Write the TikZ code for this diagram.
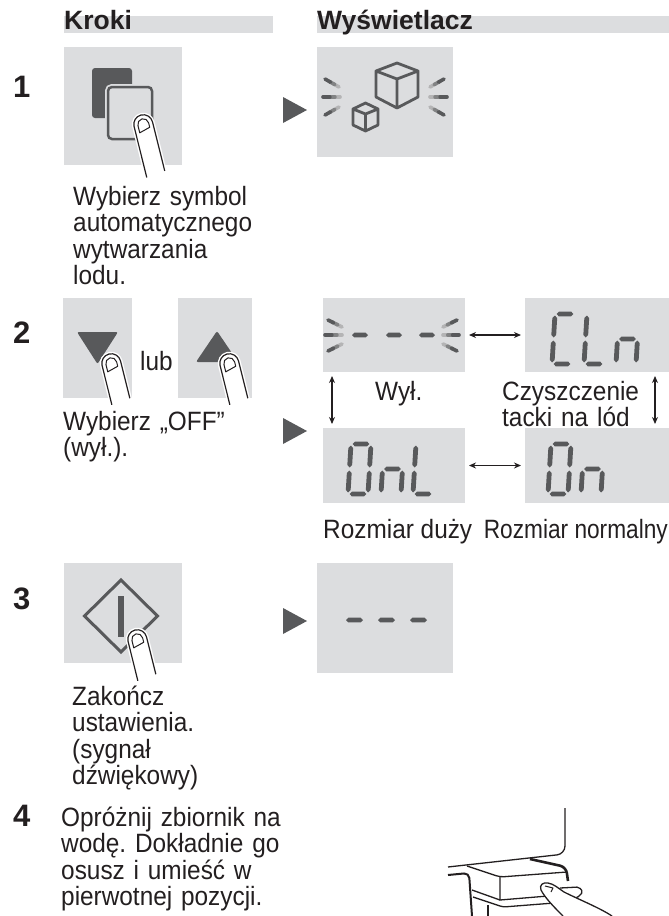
\documentclass[tikz,border=0pt]{standalone}
\usepackage{fontspec}
\setmainfont{Liberation Sans}[FakeStretch=0.92]
\newfontfamily\headfont{Liberation Sans}
\usepackage{graphicx}
\usetikzlibrary{arrows.meta}
\frenchspacing

\definecolor{panel}{HTML}{DCDDDF}
\definecolor{ink}{HTML}{231F20}
\definecolor{icon}{HTML}{58595B}

% LCD bars: \hseg{x0}{x1}{y}, \vseg{x}{y0}{y1}
\newcommand{\hseg}[3]{\fill[icon] (#1,#3) -- ({#1+2.4},{#3-2.4}) -- ({#2-2.4},{#3-2.4}) -- (#2,#3) -- ({#2-2.4},{#3+2.4}) -- ({#1+2.4},{#3+2.4}) -- cycle;}
\newcommand{\vseg}[3]{\fill[icon] (#1,#2) -- ({#1+2.4},{#2+2.4}) -- ({#1+2.4},{#3-2.4}) -- (#1,#3) -- ({#1-2.4},{#3-2.4}) -- ({#1-2.4},{#2+2.4}) -- cycle;}
\newcommand{\lcda}{\hseg{1.6}{18.4}{-50}}
\newcommand{\lcdb}{\vseg{20}{-48.4}{-26.6}}
\newcommand{\lcdc}{\vseg{20}{-23.4}{-1.6}}
\newcommand{\lcdd}{\hseg{1.6}{18.4}{0}}
\newcommand{\lcde}{\vseg{0}{-23.4}{-1.6}}
\newcommand{\lcdf}{\vseg{0}{-48.4}{-26.6}}
\newcommand{\lcdg}{\hseg{1.6}{18.4}{-25}}
% one character, bottom left corner at (#1,#2)
\newcommand{\segdigit}[3]{\begin{scope}[shift={(#1,#2)}, xslant=0.06]
  \foreach \s in {#3}{\csname lcd\s\endcsname}
\end{scope}}

% blinking stroke, dark end first
\newcommand{\flashmark}[4]{%
  \draw[icon!45, line width=3.6pt, line cap=round] ({#1+0.6*(#3-#1)},{#2+0.6*(#4-#2)}) -- (#3,#4);
  \draw[icon!75, line width=3.6pt, line cap=round] ({#1+0.3*(#3-#1)},{#2+0.3*(#4-#2)}) -- ({#1+0.7*(#3-#1)},{#2+0.7*(#4-#2)});
  \draw[icon, line width=3.6pt, line cap=round] (#1,#2) -- ({#1+0.4*(#3-#1)},{#2+0.4*(#4-#2)});}

% pressing finger, tip at (#1,#2), length #3
\newcommand{\fingertap}[3]{\begin{scope}[shift={(#1,#2)}, rotate=14]
  \draw[white, line width=4pt] (-9.5,#3) -- (-9.5,9.5) arc[start angle=180, end angle=360, radius=9.5] -- (9.5,{#3-2});
  \filldraw[fill=white, draw=ink, line width=1.2pt] (-9.5,#3) -- (-9.5,9.5) arc[start angle=180, end angle=360, radius=9.5] -- (9.5,{#3-2});
  \draw[ink, line width=1pt, line join=round] (-5.5,17) -- (-5.5,9.5) arc[start angle=180, end angle=360, radius=5.5] -- (5.5,14) -- cycle;
\end{scope}}

% play mark in front of a display
\newcommand{\playmark}[1]{\fill[icon] (283,{#1-13}) -- (307,#1) -- (283,{#1+13}) -- cycle;}

\begin{document}
\begin{tikzpicture}[
    x=1pt, y=-1pt,
    panelbox/.style={fill=panel, inner sep=0pt, outer sep=0pt, anchor=north west},
    hdr/.style={anchor=base west, inner sep=0pt, text=ink, font=\headfont\bfseries\fontsize{26.5}{26.5}\selectfont},
    num/.style={anchor=base west, inner sep=0pt, text=ink, font=\headfont\bfseries\fontsize{31}{31}\selectfont},
    txt/.style={anchor=base west, inner sep=0pt, text=ink, text width=240pt, align=left, font=\fontsize{26.5}{26.5}\selectfont},
    lbl/.style={anchor=base west, inner sep=0pt, text=ink, font=\fontsize{26.5}{26.5}\selectfont},
    swap/.style={{Stealth[length=7pt, width=6pt]}-{Stealth[length=7pt, width=6pt]}, ink, line width=1.1pt, shorten <=4pt, shorten >=4pt},
    cube/.style={icon, line width=2.8pt, line join=round, line cap=round},
    art/.style={ink, line width=1.3pt, line join=round}
]
    \useasboundingbox (0,0) rectangle (669,916);

    % column heads
    \fill[panel] (64,16) rectangle (273,33);
    \fill[panel] (317,16) rectangle (669,33);
    \node[hdr] (hsteps) at (64,29) {Kroki};
    \node[hdr] (hdisp) at (317,29) {Wyświetlacz};

    % step 1
    \node[num] (n1) at (13,97) {1};
    \node[panelbox, minimum width=118pt, minimum height=118pt] (btnsel) at (64,47) {};
    \fill[icon, rounded corners=3pt] (92,68) rectangle (132,118);
    \draw[panel, line width=6pt, rounded corners=4pt] (108,87) rectangle (152,139);
    \filldraw[fill=panel, draw=icon, line width=2.5pt, rounded corners=4pt] (108,87) rectangle (152,139);
    \fingertap{141}{115}{62}
    \node[txt] (seltxt) at (73,205) {Wybierz symbol\\automatycznego\\wytwarzania\\lodu.};

    \playmark{110}
    \node[panelbox, minimum width=136pt, minimum height=110pt] (disp1) at (317,47) {};
    \draw[cube] (397,63) -- (418,71) -- (418,97) -- (397,108) -- (376,97) -- (376,71) -- cycle
        (376,71) -- (397,79) -- (418,71) (397,79) -- (397,108);
    \draw[cube] (365.5,103) -- (378,109) -- (378,125) -- (365.5,131) -- (353,125) -- (353,109) -- cycle
        (353,109) -- (365.5,114) -- (378,109) (365.5,114) -- (365.5,131);
    \flashmark{325}{79}{339}{87}
    \flashmark{323}{97}{340}{97}
    \flashmark{325}{115}{339}{107}
    \flashmark{444}{79}{430}{87}
    \flashmark{447}{97}{430}{97}
    \flashmark{444}{115}{430}{107}

    % step 2
    \node[num] (n2) at (13,343) {2};
    \node[panelbox, minimum width=69pt, minimum height=100pt] (btndown) at (63,298) {};
    \fill[icon, rounded corners=2pt] (77,332) -- (118,332) -- (97.5,364) -- cycle;
    \fingertap{109}{354}{50}
    \node[lbl] (lub) at (140,370) {lub};
    \node[panelbox, minimum width=74pt, minimum height=100pt] (btnup) at (178,298) {};
    \fill[icon, rounded corners=2pt] (196,362) -- (238,362) -- (217,331) -- cycle;
    \fingertap{227}{354}{50}
    \node[txt] (offtxt) at (63,430) {Wybierz „OFF”\\(wył.).};

    \playmark{431}
    \node[panelbox, minimum width=142pt, minimum height=74pt] (dispoff) at (323,298) {};
    \node[panelbox, minimum width=144pt, minimum height=74pt] (dispcln) at (525,298) {};
    \node[panelbox, minimum width=142pt, minimum height=75pt] (dispbig) at (323,428) {};
    \node[panelbox, minimum width=144pt, minimum height=75pt] (dispnorm) at (525,428) {};

    \flashmark{328}{320}{342}{327}
    \flashmark{325}{335}{342}{335}
    \flashmark{328}{351}{342}{344}
    \flashmark{457}{320}{443}{327}
    \flashmark{459}{335}{443}{335}
    \flashmark{457}{351}{443}{344}
    \hseg{352}{368}{335}
    \hseg{386}{402}{335}
    \hseg{419}{435}{335}

    \segdigit{552}{364}{a,d,e,f}
    \segdigit{584}{364}{d,e,f}
    \segdigit{616}{364}{c,e,g}
    \segdigit{348}{494}{a,b,c,d,e,f}
    \segdigit{381}{494}{c,e,g}
    \segdigit{413}{494}{d,e,f}
    \segdigit{548}{494}{a,b,c,d,e,f}
    \segdigit{581}{494}{c,e,g}

    \draw[swap] (dispoff) -- (dispcln);
    \draw[swap] (dispbig) -- (dispnorm);
    \draw[swap] ([xshift=9pt]dispoff.south west) -- ([xshift=9pt]dispbig.north west);
    \draw[swap] ([xshift=-14pt]dispcln.south east) -- ([xshift=-14pt]dispnorm.north east);

    \node[lbl] (offlbl) at (375,400) {Wył.};
    \node[txt] (clnlbl) at (502,400) {Czyszczenie\\tacki na lód};
    \node[lbl] (biglbl) at (323,538) {Rozmiar duży};
    \node[lbl, anchor=base east] (normlbl) at (668,538) {\scalebox{0.93}[1]{Rozmiar normalny}};

    % step 3
    \node[num] (n3) at (13,609) {3};
    \node[panelbox, minimum width=118pt, minimum height=100pt] (btnset) at (64,563) {};
    \draw[icon, line width=3pt] (121,580) -- (157.5,616) -- (121,652) -- (84.5,616) -- cycle;
    \fill[icon] (118,596) rectangle (124,637);
    \fingertap{135}{630}{50}
    \node[txt] (settxt) at (72,705) {Zakończ\\ustawienia.\\(sygnał\\dźwiękowy)};

    \playmark{621}
    \node[panelbox, minimum width=136pt, minimum height=110pt] (disp3) at (317,563) {};
    \hseg{346}{363}{620}
    \hseg{378}{395}{620}
    \hseg{410}{427}{620}

    % step 4
    \node[num] (n4) at (13,826) {4};
    \node[txt] (tanktxt) at (61,826) {Opróżnij zbiornik na\\wodę. Dokładnie go\\osusz i umieść w\\pierwotnej pozycji.};

    % water tank pushed back into place
    \draw[art, rounded corners=8pt] (565,808) -- (565,854) -- (448,867);
    \draw[art, line width=2pt, rounded corners=5pt] (448,875) -- (469,873) -- (472,916);
    \draw[art, line width=2.6pt, rounded corners=6pt] (530,859) -- (566,867) -- (568,881);
    \draw[art, rounded corners=4pt] (467,866) -- (500,877) -- (567,872);
    \draw[art] (500,877) -- (500,900) -- (548,896);
    \draw[art, rounded corners=2pt] (560,888) -- (579,887) -- (583,892) -- (577,898) -- (565,899);
    \draw[art] (472,890) -- (500,900);
    \draw[art, rounded corners=3pt] (473,897) -- (503,907) -- (567,902) -- (570,898);
    \draw[art] (488,905) -- (488,916);
    \filldraw[art, fill=white] (563,916) .. controls (555,908) and (545,898) .. (541,890)
        .. controls (539,885) and (543,882) .. (548,883)
        .. controls (554,884) and (558,888) .. (564,892)
        .. controls (580,900) and (600,908) .. (612,916);
    \draw[art, line width=1pt] (545,886) -- (553,888) -- (551,892);
\end{tikzpicture}
\end{document}
